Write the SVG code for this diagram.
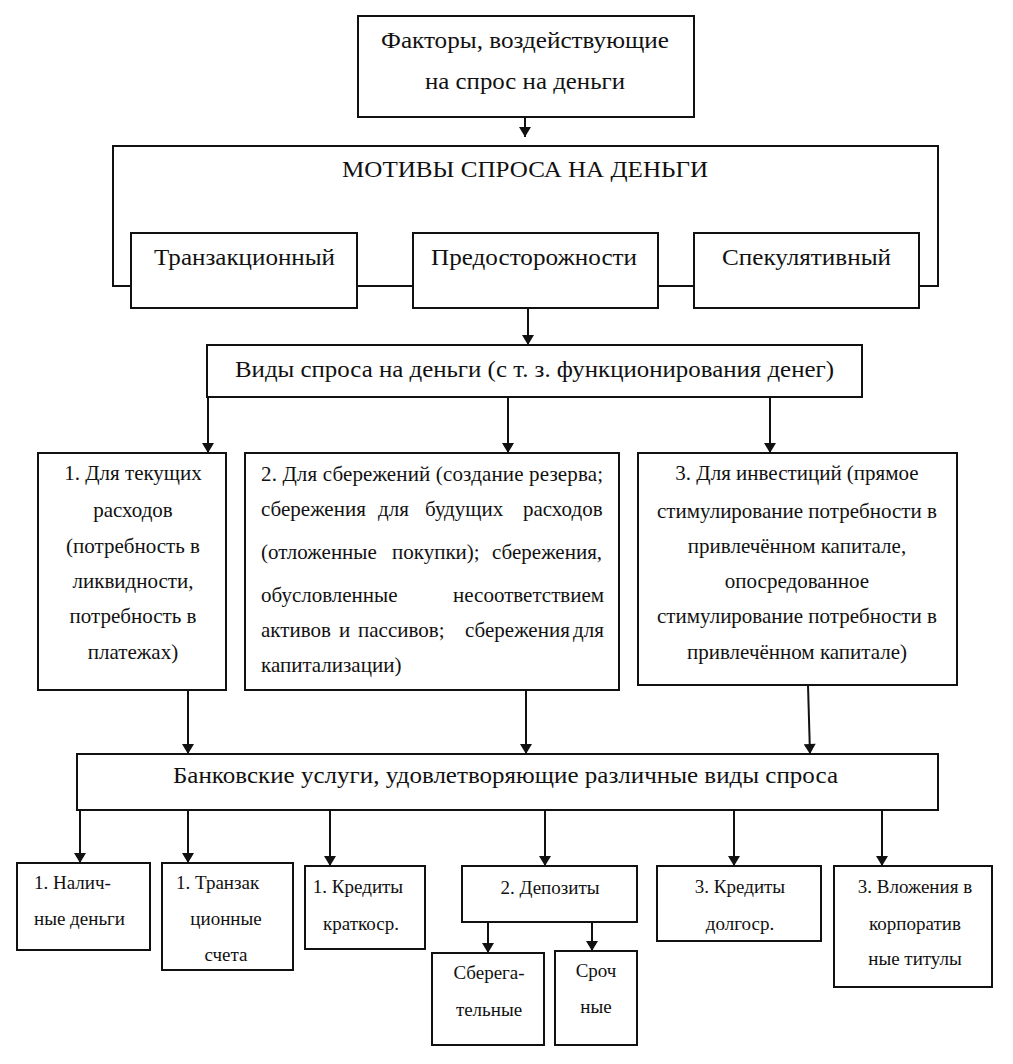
<svg xmlns="http://www.w3.org/2000/svg" width="1013" height="1064" viewBox="0 0 1013 1064">
<defs>
<marker id="ah" viewBox="0 0 10 12" refX="10" refY="6" markerWidth="11" markerHeight="12" markerUnits="userSpaceOnUse" orient="auto">
<path d="M0,0 L10,6 L0,12 Z" fill="#111"/>
</marker>
</defs>
<rect x="0" y="0" width="1013" height="1064" fill="#fff"/>

<g id="factors">
<rect x="358" y="16" width="336" height="101" fill="#fff" stroke="#111" stroke-width="2"/>
<g font-family="Liberation Serif" font-size="23.5" fill="#111" text-anchor="middle">
<text x="525" y="48" textLength="288" lengthAdjust="spacingAndGlyphs">Факторы, воздействующие</text>
<text x="525" y="89" textLength="200" lengthAdjust="spacingAndGlyphs">на спрос на деньги</text>
</g>
</g>

<g id="motives">
<rect x="113" y="146" width="825" height="140" fill="#fff" stroke="#111" stroke-width="2"/>
<text font-family="Liberation Serif" font-size="23.5" fill="#111" text-anchor="middle" x="525" y="177" textLength="366" lengthAdjust="spacingAndGlyphs">МОТИВЫ СПРОСА НА ДЕНЬГИ</text>
</g>

<g id="transact">
<rect x="131" y="233" width="226" height="75" fill="#fff" stroke="#111" stroke-width="2"/>
<text font-family="Liberation Serif" font-size="23.5" fill="#111" text-anchor="middle" x="244.5" y="265" textLength="181" lengthAdjust="spacingAndGlyphs">Транзакционный</text>
</g>
<g id="precaution">
<rect x="413" y="233" width="245" height="75" fill="#fff" stroke="#111" stroke-width="2"/>
<text font-family="Liberation Serif" font-size="23.5" fill="#111" text-anchor="middle" x="534" y="265" textLength="206" lengthAdjust="spacingAndGlyphs">Предосторожности</text>
</g>
<g id="speculative">
<rect x="694" y="233" width="225" height="75" fill="#fff" stroke="#111" stroke-width="2"/>
<text font-family="Liberation Serif" font-size="23.5" fill="#111" text-anchor="middle" x="806.5" y="265" textLength="169" lengthAdjust="spacingAndGlyphs">Спекулятивный</text>
</g>

<g id="types">
<rect x="207" y="345" width="655" height="52" fill="#fff" stroke="#111" stroke-width="2"/>
<text font-family="Liberation Serif" font-size="23.5" fill="#111" text-anchor="middle" x="534.5" y="377" textLength="599" lengthAdjust="spacingAndGlyphs">Виды спроса на деньги (с т. з. функционирования денег)</text>
</g>

<g id="current">
<rect x="38" y="453" width="188" height="237" fill="#fff" stroke="#111" stroke-width="2"/>
<g font-family="Liberation Serif" font-size="21" fill="#111" text-anchor="middle">
<text x="133" y="480">1. Для текущих</text>
<text x="133" y="517">расходов</text>
<text x="133" y="553">(потребность в</text>
<text x="133" y="588">ликвидности,</text>
<text x="133" y="623">потребность в</text>
<text x="133" y="659">платежах)</text>
</g>
</g>

<g id="savings">
<rect x="245" y="453" width="374" height="237" fill="#fff" stroke="#111" stroke-width="2"/>
<g font-family="Liberation Serif" font-size="21" fill="#111">
<text x="261" y="481" textLength="342" lengthAdjust="spacing">2. Для сбережений (создание резерва;</text>
<text y="516"><tspan x="261">сбережения</tspan><tspan x="378">для</tspan><tspan x="425">будущих</tspan><tspan x="523">расходов</tspan></text>
<text y="559"><tspan x="261">(отложенные</tspan><tspan x="392">покупки);</tspan><tspan x="492">сбережения,</tspan></text>
<text y="602"><tspan x="261">обусловленные</tspan><tspan x="453">несоответствием</tspan></text>
<text y="637"><tspan x="261">активов</tspan><tspan x="339">и</tspan><tspan x="358">пассивов;</tspan><tspan x="465">сбережения</tspan><tspan x="573">для</tspan></text>
<text x="261" y="672">капитализации)</text>
</g>
</g>

<g id="invest">
<rect x="638" y="453" width="319" height="232" fill="#fff" stroke="#111" stroke-width="2"/>
<g font-family="Liberation Serif" font-size="21" fill="#111" text-anchor="middle">
<text x="797" y="480">3. Для инвестиций (прямое</text>
<text x="797" y="518">стимулирование потребности в</text>
<text x="797" y="553">привлечённом капитале,</text>
<text x="797" y="588">опосредованное</text>
<text x="797" y="623">стимулирование потребности в</text>
<text x="797" y="659">привлечённом капитале)</text>
</g>
</g>

<g id="bank">
<rect x="77" y="754" width="861" height="56" fill="#fff" stroke="#111" stroke-width="2"/>
<text font-family="Liberation Serif" font-size="23.5" fill="#111" text-anchor="middle" x="505.5" y="783" textLength="665" lengthAdjust="spacingAndGlyphs">Банковские услуги, удовлетворяющие различные виды спроса</text>
</g>

<g id="cash">
<rect x="17" y="863" width="133" height="87" fill="#fff" stroke="#111" stroke-width="2"/>
<text font-family="Liberation Serif" font-size="19" fill="#111" x="34" y="889">1. Налич-</text>
<text font-family="Liberation Serif" font-size="19" fill="#111" x="34" y="925">ные деньги</text>
</g>
<g id="accounts">
<rect x="162" y="863" width="131" height="107" fill="#fff" stroke="#111" stroke-width="2"/>
<text font-family="Liberation Serif" font-size="19" fill="#111" x="176" y="889">1. Транзак</text>
<text font-family="Liberation Serif" font-size="19" fill="#111" text-anchor="middle" x="226" y="925">ционные</text>
<text font-family="Liberation Serif" font-size="19" fill="#111" text-anchor="middle" x="226" y="961">счета</text>
</g>
<g id="shortcredit">
<rect x="305" y="866" width="120" height="83" fill="#fff" stroke="#111" stroke-width="2"/>
<text font-family="Liberation Serif" font-size="19" fill="#111" text-anchor="middle" x="358" y="893">1. Кредиты</text>
<text font-family="Liberation Serif" font-size="19" fill="#111" text-anchor="middle" x="361" y="930">краткоср.</text>
</g>
<g id="deposits">
<rect x="462" y="866" width="175" height="56" fill="#fff" stroke="#111" stroke-width="2"/>
<text font-family="Liberation Serif" font-size="19" fill="#111" text-anchor="middle" x="550" y="894">2. Депозиты</text>
</g>
<g id="savingdep">
<rect x="432" y="953" width="112" height="92" fill="#fff" stroke="#111" stroke-width="2"/>
<text font-family="Liberation Serif" font-size="19" fill="#111" text-anchor="middle" x="489" y="979">Сберега-</text>
<text font-family="Liberation Serif" font-size="19" fill="#111" text-anchor="middle" x="489" y="1016">тельные</text>
</g>
<g id="termdep">
<rect x="555" y="951" width="82" height="94" fill="#fff" stroke="#111" stroke-width="2"/>
<text font-family="Liberation Serif" font-size="19" fill="#111" text-anchor="middle" x="596" y="977">Сроч</text>
<text font-family="Liberation Serif" font-size="19" fill="#111" text-anchor="middle" x="596" y="1013">ные</text>
</g>
<g id="longcredit">
<rect x="657" y="866" width="164" height="75" fill="#fff" stroke="#111" stroke-width="2"/>
<text font-family="Liberation Serif" font-size="19" fill="#111" text-anchor="middle" x="740" y="893">3. Кредиты</text>
<text font-family="Liberation Serif" font-size="19" fill="#111" text-anchor="middle" x="740" y="930">долгоср.</text>
</g>
<g id="corporate">
<rect x="834" y="866" width="158" height="121" fill="#fff" stroke="#111" stroke-width="2"/>
<text font-family="Liberation Serif" font-size="19" fill="#111" text-anchor="middle" x="915" y="893">3. Вложения в</text>
<text font-family="Liberation Serif" font-size="19" fill="#111" text-anchor="middle" x="915" y="930">корпоратив</text>
<text font-family="Liberation Serif" font-size="19" fill="#111" text-anchor="middle" x="915" y="965">ные титулы</text>
</g>

<g id="connectors" stroke="#111" stroke-width="2" fill="none" marker-end="url(#ah)">
<line x1="525" y1="117" x2="525" y2="137"/>
<line x1="528" y1="308" x2="528" y2="345"/>
<line x1="208" y1="397" x2="208" y2="453"/>
<line x1="508" y1="397" x2="508" y2="453"/>
<line x1="770" y1="397" x2="770" y2="453"/>
<line x1="188" y1="690" x2="188" y2="754"/>
<line x1="526" y1="690" x2="526" y2="754"/>
<line x1="808" y1="685" x2="810" y2="754"/>
<line x1="80" y1="810" x2="80" y2="863"/>
<line x1="188" y1="810" x2="188" y2="863"/>
<line x1="330" y1="810" x2="330" y2="866"/>
<line x1="545" y1="810" x2="545" y2="866"/>
<line x1="734" y1="810" x2="734" y2="866"/>
<line x1="882" y1="810" x2="882" y2="866"/>
<line x1="488" y1="922" x2="488" y2="953"/>
<line x1="592" y1="922" x2="592" y2="951"/>
</g>
</svg>
